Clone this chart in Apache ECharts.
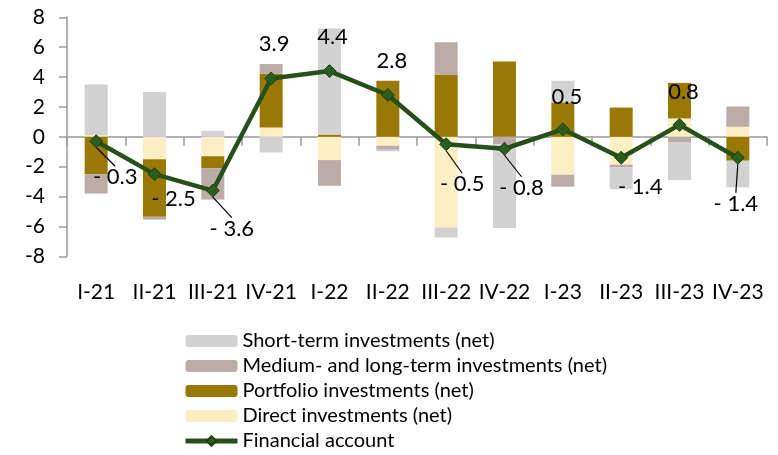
<!DOCTYPE html>
<html>
<head>
<meta charset="utf-8">
<script src="https://cdn.jsdelivr.net/npm/echarts@6/dist/echarts.min.js"></script>
<style>
  html, body { margin: 0; padding: 0; background: #fff; }
  #chart { width: 778px; height: 455px; }
</style>
</head>
<body>
<div id="chart"></div>
<script>
// quarters
var categories = ['I-21', 'II-21', 'III-21', 'IV-21', 'I-22', 'II-22', 'III-22', 'IV-22', 'I-23', 'II-23', 'III-23', 'IV-23'];

// components
var shortTerm = [3.4, 3.0, 0.4, -1.05, 7.1, -0.1, -0.67, -5.6, 1.45, -1.45, -2.52, -1.79];
var mediumLong = [-1.3, -0.18, -2.1, 0.65, -1.72, -0.27, 2.18, -0.5, -0.8, -0.18, -0.38, 1.36];
var portfolio = [-2.5, -3.86, -0.8, 3.6, 0.15, 3.75, 4.15, 5.04, 2.3, 1.96, 2.38, -1.6];
var direct = [0.1, -1.5, -1.3, 0.62, -1.56, -0.6, -6.07, 0, -2.54, -1.87, 1.23, 0.67];
var financialAccount = [-0.3, -2.5, -3.6, 3.9, 4.4, 2.8, -0.5, -0.8, 0.5, -1.4, 0.8, -1.4];

var yTicks = [-8, -6, -4, -2, 0, 2, 4, 6, 8];

// where each data label sits relative to its point (px), and which get a leader line
var labelOffsets = [[19, 36], [19, 25], [19, 38], [3, -35], [3, -34], [4, -34],
                    [16, 40], [17, 39], [4, -32], [19, 29], [4, -33], [-2, 46]];
var leader = [true, false, true, false, false, false, true, true, false, false, false, true];

var font = 'Lato, "Open Sans", sans-serif';

function fmt(v) {
  return v < 0 ? '- ' + Math.abs(v).toFixed(1) : v.toFixed(1);
}

var lineData = financialAccount.map(function (v, i) {
  return { value: v, labelLine: { show: leader[i] } };
});

function barSeries(name, data, color) {
  return {
    name: name,
    type: 'bar',
    stack: 'total',
    barWidth: 23,
    itemStyle: { color: color },
    data: data
  };
}

var myChart = echarts.init(document.getElementById('chart'));
myChart.setOption({
  animation: false,
  textStyle: { fontFamily: font },
  grid: { left: 67, right: 11, top: 17.3, bottom: 198.7 },
  legend: {
    orient: 'vertical',
    left: 183,
    top: 331,
    padding: 0,
    itemWidth: 52,
    itemHeight: 12,
    itemGap: 5,
    textStyle: { fontSize: 20, color: '#000', fontFamily: font },
    data: ['Short-term investments (net)', 'Medium- and long-term investments (net)',
           'Portfolio investments (net)', 'Direct investments (net)',
           { name: 'Financial account', lineStyle: { width: 5 } }]
  },
  xAxis: [
    {
      type: 'category',
      data: categories,
      position: 'bottom',
      axisLine: { show: false, onZero: false },
      axisTick: { show: false },
      axisLabel: { interval: 0, fontSize: 21, color: '#000', margin: 25, fontFamily: font }
    },
    {
      // zero line with the boundary ticks
      type: 'category',
      data: categories,
      position: 'top',
      axisLine: { show: true, onZero: true, lineStyle: { color: '#9a9a9a', width: 1.5 } },
      axisTick: { show: true, inside: true, length: 9, lineStyle: { color: '#9a9a9a', width: 1.5 } },
      axisLabel: { show: false }
    }
  ],
  yAxis: {
    type: 'value',
    min: yTicks[0],
    max: yTicks[yTicks.length - 1],
    interval: 2,
    splitLine: { show: false },
    axisLine: { show: true, lineStyle: { color: '#9a9a9a', width: 1.5 } },
    axisTick: { show: true, length: 8, lineStyle: { color: '#9a9a9a', width: 1.5 } },
    axisLabel: { fontSize: 21, color: '#000', margin: 22, fontFamily: font }
  },
  series: [
    barSeries('Direct investments (net)', direct, '#fdefc3'),
    barSeries('Portfolio investments (net)', portfolio, '#9a7806'),
    barSeries('Medium- and long-term investments (net)', mediumLong, '#bbaca8'),
    barSeries('Short-term investments (net)', shortTerm, '#d2d2d2'),
    {
      name: 'Financial account',
      type: 'line',
      data: lineData,
      symbol: 'diamond',
      symbolSize: 13,
      z: 5,
      lineStyle: { color: '#25501a', width: 4.5 },
      itemStyle: { color: '#2b5e1e', borderColor: '#1d3f12', borderWidth: 1 },
      label: {
        show: true,
        position: 'inside',
        fontSize: 22,
        color: '#000',
        fontFamily: font,
        formatter: function (p) { return fmt(p.value); }
      },
      labelLine: { show: false, lineStyle: { color: '#000', width: 1.2 } },
      labelLayout: function (params) {
        var r = params.rect;
        var off = labelOffsets[params.dataIndex];
        return {
          x: r.x + r.width / 2 + off[0],
          y: r.y + r.height / 2 + off[1],
          align: 'center',
          verticalAlign: 'middle'
        };
      }
    }
  ]
});
</script>
</body>
</html>
